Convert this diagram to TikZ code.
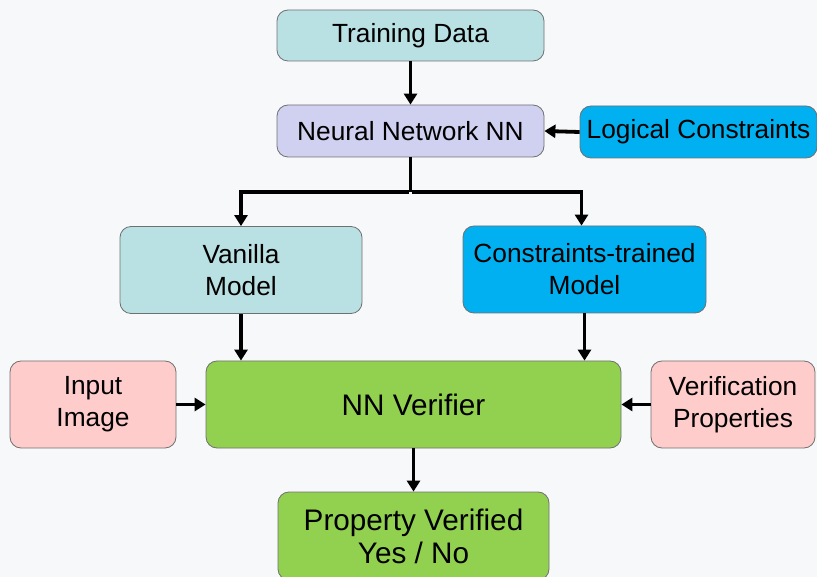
\documentclass[tikz,border=0pt]{standalone}
\usepackage{fontspec}
\setmainfont{Liberation Sans}
\usetikzlibrary{arrows.meta}
\definecolor{bgc}{HTML}{F7F8FA}
\definecolor{teal}{HTML}{B9E0E3}
\definecolor{lav}{HTML}{D0D0F0}
\definecolor{cyanb}{HTML}{00B0F0}
\definecolor{pinkb}{HTML}{FFCCCC}
\definecolor{greenb}{HTML}{92D050}
\definecolor{bord}{HTML}{707070}
\tikzset{
  box/.style={draw=bord, line width=0.8pt, rounded corners=11pt, align=center,
    inner sep=0pt, font=\fontsize{26.3}{32}\selectfont, text=black},
  big/.style={font=\fontsize{29.7}{33}\selectfont},
  arr/.style={line width=3.8pt, -{Triangle[width=13pt,length=11pt]}},
  ln/.style={line width=3.8pt}
}
\begin{document}
\begin{tikzpicture}[x=1pt,y=-1pt]
\fill[bgc] (0,0) rectangle (817,577);
\useasboundingbox (0,0) rectangle (817,577);
\node[box, fill=teal, minimum width=267pt, minimum height=51pt] (td) at (410.5,35.5) {Training Data};
\node[box, fill=lav, minimum width=267pt, minimum height=52pt] (nn) at (410.5,131) {Neural Network NN};
\node[box, fill=cyanb, minimum width=237pt, minimum height=52pt] (lc) at (698.5,132) {Logical Constraints};
\node[box, fill=teal, minimum width=242pt, minimum height=87pt] (van) at (241,270) {Vanilla\\Model};
\node[box, fill=cyanb, minimum width=243pt, minimum height=87pt] (ctm) at (584.5,269.5) {Constraints-trained\\Model};
\node[box, big, fill=greenb, minimum width=415pt, minimum height=87pt] (ver) at (413.5,404.5) {NN Verifier};
\node[box, fill=pinkb, minimum width=166pt, minimum height=87pt] (inp) at (93,404.5) {Input\\Image};
\node[box, fill=pinkb, minimum width=164pt, minimum height=87pt] (vp) at (733,404.5) {Verification\\Properties};
\node[box, big, fill=greenb, minimum width=271pt, minimum height=88pt] (pv) at (413.5,536) {Property Verified\\Yes / No};
\coordinate (j) at (410.5,192);
\draw[arr] (td.south) -- (nn.north);
\draw[arr] (lc.west) -- (nn.east);
\draw[ln] (nn.south) -- (j);
\draw[arr] ([xshift=-1.9pt]j) -| (van.north);
\draw[arr] ([xshift=1.9pt]j) -| ([xshift=-3pt]ctm.north);
\draw[arr] (van.south) -- (van.south |- ver.north);
\draw[arr] (ctm.south) -- (ctm.south |- ver.north);
\draw[arr] (inp.east) -- (ver.west);
\draw[arr] (vp.west) -- (ver.east);
\draw[arr] (ver.south) -- (pv.north);
\end{tikzpicture}
\end{document}
